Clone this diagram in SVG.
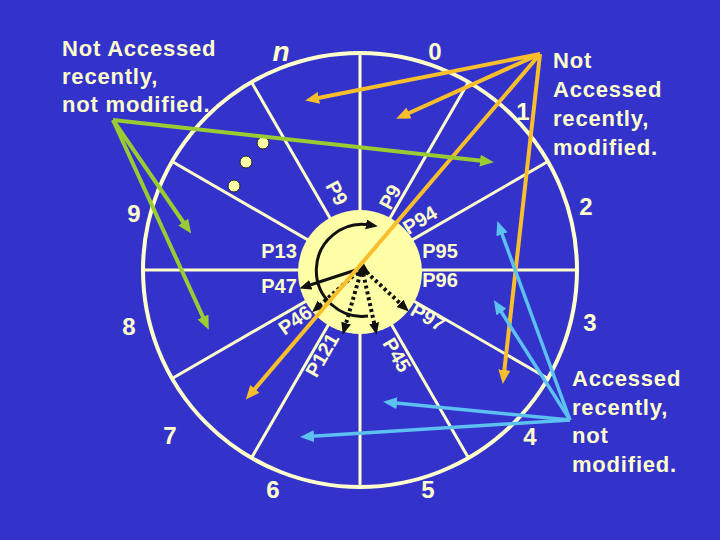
<svg xmlns="http://www.w3.org/2000/svg" width="720" height="540" viewBox="0 0 720 540">
<style>
.t{font-family:"Liberation Sans",Arial,sans-serif;font-weight:bold;fill:#FFFFCC}
.lbl{font-size:22px;letter-spacing:0.8px}
.num{font-size:24px;text-anchor:middle}
.pl{font-size:20px;text-anchor:middle}
.ring{fill:none;stroke:#FFFFCC;stroke-width:4}
.spoke{fill:none;stroke:#FFFFCC;stroke-width:3}
.or{stroke:#F9BE2C;stroke-width:4;fill:none;marker-end:url(#ao)}
.gr{stroke:#99CC33;stroke-width:4;fill:none;marker-end:url(#ag)}
.bl{stroke:#5CC0F0;stroke-width:3.5;fill:none;marker-end:url(#ab)}
.bk{stroke:#111;stroke-width:3;fill:none;marker-end:url(#ak)}
.bd{stroke:#111;stroke-width:4;fill:none;stroke-dasharray:3 3;marker-end:url(#ak)}
.dot{fill:#FFFFA8;stroke:#222;stroke-width:1}
</style>
<defs>
<marker id="ao" markerUnits="userSpaceOnUse" markerWidth="16" markerHeight="12" refX="6" refY="6" orient="auto"><path d="M0,0 L14,6 L0,12 z" fill="#F9BE2C"/></marker>
<marker id="ag" markerUnits="userSpaceOnUse" markerWidth="16" markerHeight="12" refX="6" refY="6" orient="auto"><path d="M0,0 L14,6 L0,12 z" fill="#99CC33"/></marker>
<marker id="ab" markerUnits="userSpaceOnUse" markerWidth="16" markerHeight="12" refX="6" refY="6" orient="auto"><path d="M0,0 L14,6 L0,12 z" fill="#5CC0F0"/></marker>
<marker id="ak" markerUnits="userSpaceOnUse" markerWidth="14" markerHeight="12" refX="4" refY="5" orient="auto"><path d="M0,0 L12,5 L0,10 z" fill="#111"/></marker>
</defs>
<rect width="720" height="540" fill="#3333CC"/>
<g id="clock">
<circle class="ring" cx="360" cy="270" r="217"/>
<path class="spoke" d="M360,270 L577,270 M360,270 L547.9,378.5 M360,270 L468.5,457.9 M360,270 L360,487 M360,270 L251.5,457.9 M360,270 L172.1,378.5 M360,270 L143,270 M360,270 L172.1,161.5 M360,270 L251.5,82.1 M360,270 L360,53 M360,270 L468.5,82.1 M360,270 L547.9,161.5"/>
</g>
<g id="hub">
<circle cx="360" cy="272" r="62" fill="#FFFFA8"/>
</g>
<g id="dots">
<circle class="dot" cx="263" cy="143" r="6"/>
<circle class="dot" cx="246" cy="162" r="6"/>
<circle class="dot" cx="234" cy="186" r="6"/>
</g>
<g id="numbers" class="t">
<text class="num" x="281" y="61" style="font-size:28px;font-style:italic">n</text>
<text class="num" x="435" y="60">0</text>
<text class="num" x="523" y="120">1</text>
<text class="num" x="586" y="215">2</text>
<text class="num" x="590" y="331">3</text>
<text class="num" x="530" y="445">4</text>
<text class="num" x="428" y="498">5</text>
<text class="num" x="273" y="498">6</text>
<text class="num" x="170" y="444">7</text>
<text class="num" x="129" y="335">8</text>
<text class="num" x="134" y="222">9</text>
</g>
<g id="pages" class="t">
<text class="pl" x="279" y="258">P13</text>
<text class="pl" x="279" y="293">P47</text>
<text class="pl" x="440" y="258">P95</text>
<text class="pl" x="440" y="287">P96</text>
<text class="pl" transform="translate(337,193) rotate(62)" x="0" y="7">P9</text>
<text class="pl" transform="translate(390,197) rotate(-62)" x="0" y="7">P9</text>
<text class="pl" transform="translate(420,220) rotate(-31)" x="0" y="7">P94</text>
<text class="pl" transform="translate(428,317) rotate(30)" x="0" y="7">P97</text>
<text class="pl" transform="translate(397,355) rotate(60)" x="0" y="7">P45</text>
<text class="pl" transform="translate(322,355) rotate(-60)" x="0" y="7">P121</text>
<text class="pl" transform="translate(295,320) rotate(-35)" x="0" y="7">P46</text>
</g>
<g id="labels" class="t lbl">
<text x="62" y="56">Not Accessed</text>
<text x="62" y="84">recently,</text>
<text x="62" y="112">not modified.</text>
<text x="553" y="68">Not</text>
<text x="553" y="97">Accessed</text>
<text x="553" y="126">recently,</text>
<text x="553" y="155">modified.</text>
<text x="572" y="386">Accessed</text>
<text x="572" y="415">recently,</text>
<text x="572" y="443">not</text>
<text x="572" y="472">modified.</text>
</g>
<g id="connectors">
<path class="bk" d="M368,316 A46,46 0 1 1 370,225"/>
<polygon points="356,276 363,262 370,274" fill="#111"/>
<path class="bk" d="M362,268 L307,286"/>
<path class="bd" d="M362,268 L318,307"/>
<path class="bd" d="M362,268 L345,327"/>
<path class="bd" d="M362,268 L375,327"/>
<path class="bd" d="M362,268 L403,306"/>
<path class="or" d="M540,54 L313,99"/>
<path class="or" d="M540,54 L403.5,115.5"/>
<path class="or" d="M540,54 L251,393.4"/>
<path class="or" d="M540,54 L503.7,376"/>
<path class="gr" d="M113,120 L486,161.3"/>
<path class="gr" d="M113,120 L186.6,227"/>
<path class="gr" d="M113,120 L205.5,322.5"/>
<path class="bl" d="M570,420 L500,228.6"/>
<path class="bl" d="M570,420 L498.2,307"/>
<path class="bl" d="M570,420 L391,402.6"/>
<path class="bl" d="M570,420 L308,436.6"/>
</g>
</svg>
